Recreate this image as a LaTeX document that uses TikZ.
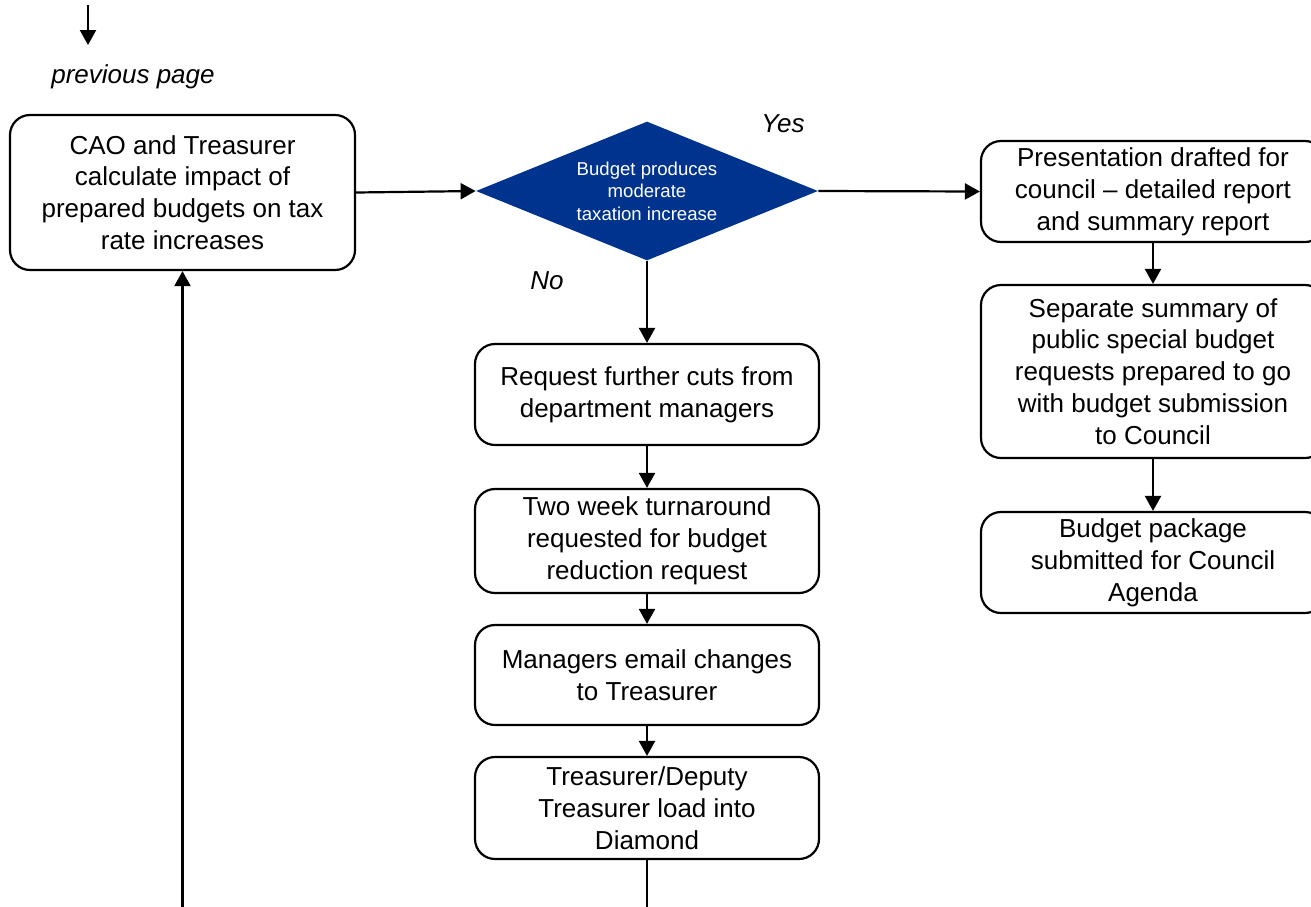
\documentclass[tikz,border=0pt]{standalone}
\usepackage{fontspec}
\setmainfont{Liberation Sans}
\usetikzlibrary{arrows.meta,shapes.geometric}
\definecolor{decblue}{RGB}{0,51,141}
\begin{document}
\begin{tikzpicture}[x=0.5pt,y=-0.5pt,
  proc/.style={draw, line width=1.1pt, rounded corners=10pt, align=center,
    font=\fontsize{13}{15.9}\selectfont, inner sep=0pt},
  decision/.style={shape=diamond, fill=decblue, draw=none, text=white, align=center,
    shape aspect=2.46, inner sep=0pt, minimum width=171pt, minimum height=69.5pt,
    font=\fontsize{9.3}{11.2}\selectfont},
  lbl/.style={font=\fontsize{13}{15.9}\selectfont\itshape, inner sep=0pt},
  conn/.style={line width=1.1pt, -{Triangle[length=7.5pt,width=8pt]}},
  plain/.style={line width=1.1pt}
]
\useasboundingbox (0,0) rectangle (1311,906);
\clip (0,0) rectangle (1311,906);

\coordinate (top0) at (88,5);
\coordinate (top1) at (88,45);
\node[lbl] (prev) at (133,77) {previous page};

\node[proc, minimum width=172.5pt, minimum height=77.5pt] (A) at (182.5,192.5)
  {CAO and Treasurer\\calculate impact of\\prepared budgets on tax\\rate increases};
\node[decision] (D) at (647,191) {Budget produces\\moderate\\taxation increase};

\node[proc, minimum width=172pt, minimum height=50.5pt] (R1) at (1153,191.5)
  {Presentation drafted for\\council – detailed report\\and summary report};
\node[proc, minimum width=172pt, minimum height=86.5pt] (R2) at (1153,371.5)
  {Separate summary of\\public special budget\\requests prepared to go\\with budget submission\\to Council};
\node[proc, minimum width=172pt, minimum height=50.5pt] (R3) at (1153,562.5)
  {Budget package\\submitted for Council\\Agenda};

\node[proc, minimum width=172pt, minimum height=50.5pt] (M1) at (647,394.5)
  {Request further cuts from\\department managers};
\node[proc, minimum width=172pt, minimum height=52pt] (M2) at (647,541)
  {Two week turnaround\\requested for budget\\reduction request};
\node[proc, minimum width=172pt, minimum height=50pt] (M3) at (647,675)
  {Managers email changes\\to Treasurer};
\node[proc, minimum width=172pt, minimum height=51pt] (M4) at (647,808)
  {Treasurer/Deputy\\Treasurer load into\\Diamond};

\node[lbl] (yes) at (783,124) {Yes};
\node[lbl] (no) at (547,281) {No};

\coordinate (bot1) at (647,910);
\coordinate (bot0) at (182.5,910);

\draw[conn] (top0) -- (top1);
\draw[conn] (A.east) -- (D.west);
\draw[conn] (D.east) -- (R1.west);
\draw[conn] (R1.south) -- (R2.north);
\draw[conn] (R2.south) -- (R3.north);
\draw[conn] (D.south) -- (M1.north);
\draw[conn] (M1.south) -- (M2.north);
\draw[conn] (M2.south) -- (M3.north);
\draw[conn] (M3.south) -- (M4.north);
\draw[plain] (M4.south) -- (bot1);
\draw[conn] (bot0) -- (A.south);
\end{tikzpicture}
\end{document}
